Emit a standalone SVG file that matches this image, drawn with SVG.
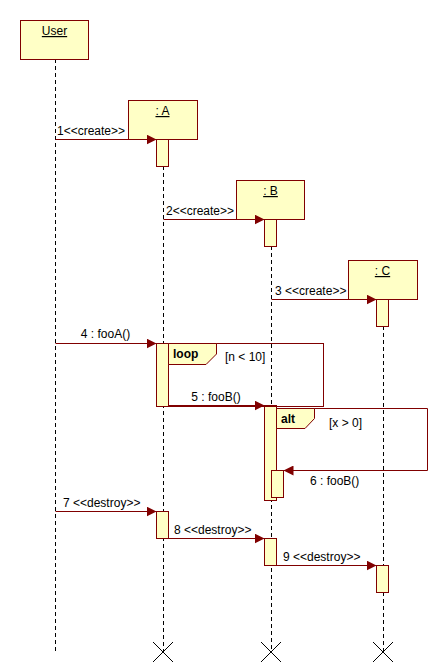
<svg xmlns="http://www.w3.org/2000/svg" width="447" height="672" viewBox="0 0 447 672">
<style>
.box{fill:#ffffc6;stroke:#800000;stroke-width:1}
.life{stroke:#000;stroke-width:1;stroke-dasharray:4 3;fill:none}
.msg{stroke:#800000;stroke-width:1;fill:none}
.frame{fill:none;stroke:#800000;stroke-width:1}
.t{font-family:"Liberation Sans",Arial,sans-serif;font-size:12px;fill:#000}
.b{font-weight:bold}
.u{text-decoration:underline}
.x{stroke:#000;stroke-width:1}
</style>
<defs>
<marker id="ah" markerWidth="10" markerHeight="10" refX="10" refY="5" orient="auto" markerUnits="userSpaceOnUse">
<path d="M0,0 L10,5 L0,10 Z" fill="#800000"/>
</marker>
</defs>
<rect width="447" height="672" fill="#fff"/>
<g id="lifelines">
<line class="life" x1="55.5" y1="59" x2="55.5" y2="652"/>
<line class="life" x1="163.5" y1="166" x2="163.5" y2="652"/>
<line class="life" x1="271.5" y1="246" x2="271.5" y2="652"/>
<line class="life" x1="383.5" y1="326" x2="383.5" y2="652"/>
</g>
<g id="User">
<rect class="box" x="20.5" y="20.5" width="68" height="39"/>
<text class="t u" x="54.5" y="35" text-anchor="middle">User</text>
</g>
<g id="A">
<rect class="box" x="128.5" y="100.5" width="69" height="39"/>
<text class="t u" x="162.5" y="115" text-anchor="middle">: A</text>
<rect class="box" x="156.5" y="139.5" width="12" height="27"/>
</g>
<g id="B">
<rect class="box" x="236.5" y="180.5" width="68" height="39"/>
<text class="t u" x="270.5" y="195" text-anchor="middle">: B</text>
<rect class="box" x="264.5" y="219.5" width="12" height="27"/>
</g>
<g id="C">
<rect class="box" x="348.5" y="260.5" width="69" height="39"/>
<text class="t u" x="382.5" y="275" text-anchor="middle">: C</text>
<rect class="box" x="376.5" y="299.5" width="12" height="27"/>
</g>
<g id="activations">
<rect class="box" x="156.5" y="343.5" width="12" height="63"/>
<rect class="box" x="264.5" y="405.5" width="12" height="95"/>
<rect class="box" x="271.5" y="470.5" width="12" height="27"/>
<rect class="box" x="156.5" y="511.5" width="12" height="27"/>
<rect class="box" x="264.5" y="538.5" width="12" height="27"/>
<rect class="box" x="376.5" y="565.5" width="12" height="27"/>
</g>
<g id="loop">
<rect class="frame" x="168.5" y="343.5" width="155" height="63"/>
<path class="box" d="M168.5,343.5 L216.5,343.5 L216.5,354 L206,364.5 L168.5,364.5 Z"/>
<text class="t b" x="173" y="358">loop</text>
<text class="t" x="225" y="361">[n &lt; 10]</text>
</g>
<g id="alt">
<path class="frame" d="M276.5,408.5 L427.5,408.5 L427.5,470.5"/>
<path class="box" d="M276.5,408.5 L314.5,408.5 L314.5,418.5 L305,428.5 L276.5,428.5 Z"/>
<text class="t b" x="281" y="423">alt</text>
<text class="t" x="329" y="427">[x &gt; 0]</text>
</g>
<g id="connectors">
<line class="msg" x1="55.5" y1="139.5" x2="156.5" y2="139.5" marker-end="url(#ah)"/>
<line class="msg" x1="163.5" y1="219.5" x2="264.5" y2="219.5" marker-end="url(#ah)"/>
<line class="msg" x1="271.5" y1="299.5" x2="376.5" y2="299.5" marker-end="url(#ah)"/>
<line class="msg" x1="55.5" y1="343.5" x2="156.5" y2="343.5" marker-end="url(#ah)"/>
<line class="msg" x1="168.5" y1="405.5" x2="264.5" y2="405.5" marker-end="url(#ah)"/>
<line class="msg" x1="427.5" y1="470.5" x2="283.5" y2="470.5" marker-end="url(#ah)"/>
<line class="msg" x1="55.5" y1="511.5" x2="156.5" y2="511.5" marker-end="url(#ah)"/>
<line class="msg" x1="168.5" y1="538.5" x2="264.5" y2="538.5" marker-end="url(#ah)"/>
<line class="msg" x1="276.5" y1="565.5" x2="376.5" y2="565.5" marker-end="url(#ah)"/>
</g>
<g id="labels">
<text class="t" x="57" y="135">1&lt;&lt;create&gt;&gt;</text>
<text class="t" x="166" y="215">2&lt;&lt;create&gt;&gt;</text>
<text class="t" x="275" y="295">3 &lt;&lt;create&gt;&gt;</text>
<text class="t" x="105.5" y="338" text-anchor="middle">4 : fooA()</text>
<text class="t" x="216" y="401" text-anchor="middle">5 : fooB()</text>
<text class="t" x="310" y="485">6 : fooB()</text>
<text class="t" x="63" y="507">7 &lt;&lt;destroy&gt;&gt;</text>
<text class="t" x="174" y="534">8 &lt;&lt;destroy&gt;&gt;</text>
<text class="t" x="283" y="561">9 &lt;&lt;destroy&gt;&gt;</text>
</g>
<g id="destroys">
<path class="x" d="M153,642 L173,662 M173,642 L153,662"/>
<path class="x" d="M261,642 L281,662 M281,642 L261,662"/>
<path class="x" d="M373,642 L393,662 M393,642 L373,662"/>
</g>
</svg>
